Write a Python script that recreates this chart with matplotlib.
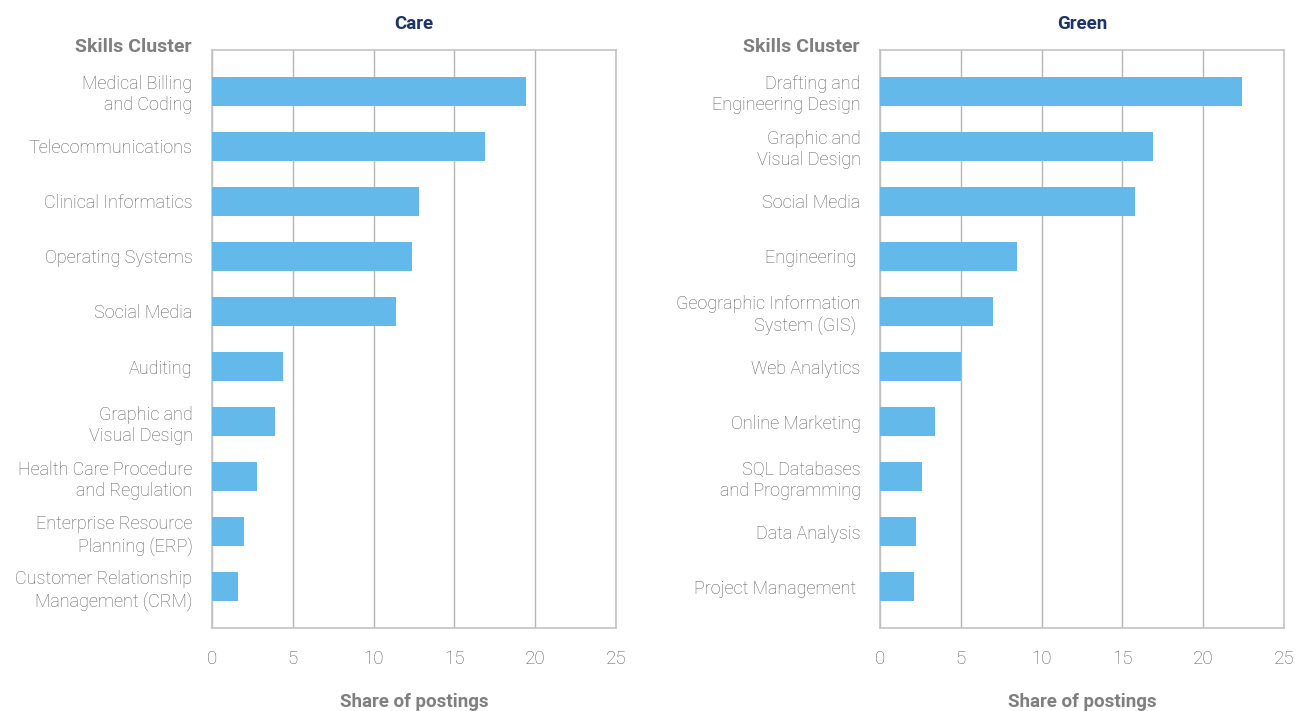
import matplotlib.pyplot as plt

plt.rcParams['font.family'] = ['Roboto', 'DejaVu Sans']

# Data (share of postings, %)
care_skills = ["Medical Billing\nand Coding", "Telecommunications", "Clinical Informatics",
               "Operating Systems", "Social Media", "Auditing", "Graphic and\nVisual Design",
               "Health Care Procedure\nand Regulation", "Enterprise Resource\nPlanning (ERP)",
               "Customer Relationship\nManagement (CRM)"]
care_share = [19.4, 16.9, 12.8, 12.4, 11.4, 4.4, 3.9, 2.8, 2.0, 1.6]

green_skills = ["Drafting and\nEngineering Design", "Graphic and\nVisual Design", "Social Media",
                "Engineering ", "Geographic Information\nSystem (GIS) ", "Web Analytics",
                "Online Marketing", "SQL Databases\nand Programming", "Data Analysis",
                "Project Management "]
green_share = [22.4, 16.9, 15.8, 8.5, 7.0, 5.0, 3.4, 2.6, 2.2, 2.1]

xticks = [0, 5, 10, 15, 20, 25]

bar_color = "#63b9e9"
gray = "#7f7f7f"
light_gray = "#5e5e5e"
navy = "#1c3466"

fig = plt.figure(figsize=(12.96, 7.11), dpi=100)
ax1 = fig.add_axes([212/1296, 1-628/711, 404/1296, 578/711])
ax2 = fig.add_axes([880/1296, 1-628/711, 404/1296, 578/711])

for ax, labels, vals, title in [(ax1, care_skills, care_share, "Care"),
                                (ax2, green_skills, green_share, "Green")]:
    y = list(range(len(labels)))
    ax.barh(y, vals, height=0.53, color=bar_color, zorder=3)
    ax.set_ylim(len(labels) - 0.25, -0.75)
    ax.set_xlim(0, 25)
    ax.set_xticks(xticks)
    ax.set_yticks(y)
    ax.set_yticklabels(labels, fontsize=13, color=light_gray, linespacing=1.22,
                       fontweight='light')
    ax.tick_params(axis='y', length=0, pad=14)
    ax.tick_params(axis='x', length=0, pad=16, labelsize=13.5, labelcolor=light_gray)
    for t in ax.get_xticklabels():
        t.set_fontweight('light')
    ax.grid(axis='x', color="#b5b5b5", linewidth=1, zorder=0)
    for s in ax.spines.values():
        s.set_color("#c4c4c4")
        s.set_linewidth(1.2)
    ax.set_title(title, fontsize=13.5, fontweight='bold', color=navy, pad=15)
    ax.set_xlabel("Share of postings", fontsize=13.5, fontweight='bold', color=gray,
                  labelpad=18)
    ax.text(-20/404*25, -0.72, "Skills Cluster", ha='right', va='baseline',
            fontsize=14, fontweight='bold', color=gray, transform=ax.transData)

fig.savefig("out.png", dpi=100)
